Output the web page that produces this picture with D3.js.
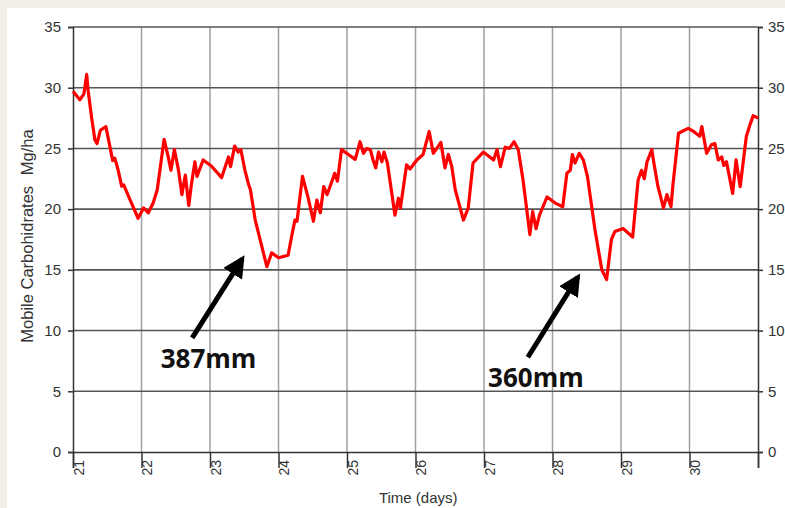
<!DOCTYPE html>
<html>
<head>
<meta charset="utf-8">
<script src="https://cdn.jsdelivr.net/npm/d3@7"></script>
<style>
  body { margin: 0; background: #f1eee6; }
  svg { display: block; }
</style>
</head>
<body>
<div id="chart"></div>
<script>
// time in days, carbohydrate values
const days = [21.00, 21.10, 21.16, 21.20, 21.22, 21.27, 21.32, 21.35, 21.40, 21.48, 21.53, 21.58, 21.61, 21.66, 21.71, 21.74, 21.83, 21.95,
  22.03, 22.10, 22.17, 22.23, 22.33, 22.39, 22.43, 22.48, 22.54, 22.59, 22.64, 22.69, 22.73, 22.78, 22.81, 22.90,
  23.02, 23.17, 23.27, 23.30, 23.36, 23.41, 23.45, 23.51, 23.56, 23.59, 23.66, 23.83, 23.90,
  24.00, 24.14, 24.19, 24.24, 24.27, 24.35, 24.43, 24.51, 24.56, 24.61, 24.66, 24.71, 24.78, 24.82, 24.86, 24.92,
  25.02, 25.12, 25.19, 25.24, 25.29, 25.34, 25.38, 25.42, 25.46, 25.51, 25.54, 25.59, 25.70, 25.75, 25.78, 25.87, 25.92,
  26.02, 26.11, 26.20, 26.26, 26.31, 26.37, 26.43, 26.48, 26.53, 26.58, 26.70, 26.77, 26.84, 26.99,
  27.14, 27.19, 27.24, 27.31, 27.37, 27.44, 27.50, 27.57, 27.67, 27.71, 27.76, 27.81, 27.92,
  28.04, 28.15, 28.21, 28.26, 28.29, 28.33, 28.39, 28.45, 28.51, 28.62, 28.72, 28.79, 28.86, 28.91,
  29.03, 29.17, 29.25, 29.30, 29.34, 29.38, 29.45, 29.48, 29.54, 29.62, 29.67, 29.73, 29.76, 29.84, 29.98,
  30.06, 30.15, 30.18, 30.25, 30.32, 30.37, 30.42, 30.47, 30.50, 30.54, 30.63, 30.68, 30.74, 30.83, 30.88, 30.93, 31.00];
const carbs = [29.7, 29.0, 29.5, 31.1, 29.8, 27.6, 25.7, 25.4, 26.5, 26.8, 25.4, 24.0, 24.2, 23.2, 21.9, 22.0, 20.8, 19.25,
  20.1, 19.7, 20.5, 21.6, 25.75, 24.3, 23.2, 24.9, 23.2, 21.2, 22.8, 20.3, 22.1, 23.9, 22.7, 24.05,
  23.55, 22.6, 24.3, 23.5, 25.2, 24.7, 24.9, 23.2, 22.1, 21.6, 19.1, 15.26, 16.4,
  16.0, 16.2, 17.7, 19.1, 19.0, 22.7, 21.0, 19.0, 20.75, 19.7, 21.85, 21.2, 22.3, 22.95, 22.3, 24.9,
  24.5, 24.1, 25.55, 24.6, 25.0, 24.9, 24.05, 23.4, 24.7, 23.9, 24.7, 23.8, 19.5, 20.9, 20.1, 23.65, 23.3,
  24.05, 24.5, 26.4, 24.6, 25.0, 25.5, 23.4, 24.5, 23.5, 21.6, 19.1, 20.1, 23.8, 24.7,
  24.05, 24.9, 23.5, 25.1, 25.0, 25.55, 24.9, 22.4, 17.9, 19.8, 18.4, 19.5, 21.0,
  20.5, 20.2, 22.95, 23.2, 24.5, 23.8, 24.6, 24.05, 22.7, 18.3, 15.0, 14.2, 17.5, 18.15,
  18.4, 17.7, 22.4, 23.2, 22.5, 23.9, 24.9, 23.8, 21.85, 20.1, 21.2, 20.2, 22.1, 26.25, 26.65,
  26.4, 26.0, 26.8, 24.6, 25.3, 25.4, 24.05, 24.3, 23.6, 23.9, 21.3, 24.05, 21.85, 26.0, 26.9, 27.7, 27.5];

const yTicks = [0, 5, 10, 15, 20, 25, 30, 35];
const xTicks = [21, 22, 23, 24, 25, 26, 27, 28, 29, 30, 31];
const xTickLabels = ["21", "22", "23", "24", "25", "26", "27", "28", "29", "30", ""];

// rainfall annotations: [tail day, tail value, tip day, tip value]
const arrowDays = [[22.74, 9.4, 23.47, 15.9], [27.64, 7.8, 28.37, 14.4]];
const noteLabels = ["387mm", "360mm"];
const noteDays = [22.28, 27.06];
const noteValues = [6.9, 5.35];

const W = 785, H = 508;
const margin = { top: 27, right: 27, bottom: 56, left: 73 };
const width = W - margin.left - margin.right,
  height = H - margin.top - margin.bottom;

const root = d3.select("#chart").append("svg").attr("width", W).attr("height", H);

// white panel over beige page
root.append("rect").attr("x", 7).attr("y", 8).attr("width", W - 7).attr("height", H - 8).attr("fill", "#fff");

const svg = root.append("g").attr("transform", `translate(${margin.left},${margin.top})`);

const x = d3.scaleLinear().domain([21, 31]).range([0, width]);
const y = d3.scaleLinear().domain([0, 35]).range([height, 0]);

// vertical grid
svg.append("g")
  .selectAll("line")
  .data(xTicks.slice(1, -1))
  .join("line")
  .attr("x1", d => x(d)).attr("x2", d => x(d))
  .attr("y1", 0).attr("y2", height)
  .attr("stroke", "#a0a0a0").attr("stroke-width", 1.5);

// horizontal grid
svg.append("g")
  .selectAll("line")
  .data(yTicks.slice(1))
  .join("line")
  .attr("x1", 0).attr("x2", width)
  .attr("y1", d => y(d)).attr("y2", d => y(d))
  .attr("stroke", "#555").attr("stroke-width", 1.6);

// left axis
const yAxisL = svg.append("g")
  .call(d3.axisLeft(y).tickValues(yTicks).tickSize(5).tickPadding(7));
// right axis
const yAxisR = svg.append("g")
  .attr("transform", `translate(${width},0)`)
  .call(d3.axisRight(y).tickValues(yTicks).tickSize(5).tickPadding(5));
[yAxisL, yAxisR].forEach(a => {
  a.select(".domain").attr("stroke", "#333").attr("stroke-width", 1.5);
  a.selectAll(".tick line").attr("stroke", "#333").attr("stroke-width", 1.5);
  a.selectAll(".tick text")
    .style("font-family", "Liberation Sans, Arial, sans-serif")
    .style("font-size", "15px")
    .attr("fill", "#333");
});

// bottom axis
const xAxis = svg.append("g")
  .attr("transform", `translate(0,${height})`)
  .call(d3.axisBottom(x).tickValues(xTicks).tickSize(16).tickFormat((d, i) => xTickLabels[i]));
xAxis.select(".domain").attr("stroke", "#333").attr("stroke-width", 1.5);
xAxis.selectAll(".tick line").attr("stroke", "#333").attr("stroke-width", 1.5);
xAxis.selectAll(".tick text")
  .attr("transform", "translate(10,8) rotate(-90)")
  .attr("x", 0).attr("y", 0).attr("dy", 0)
  .style("text-anchor", "end")
  .style("font-family", "Liberation Sans, Arial, sans-serif")
  .style("font-size", "14px")
  .attr("fill", "#333");

// the series
const line = d3.line()
  .x((d, i) => x(days[i]))
  .y(d => y(d));
svg.append("path")
  .datum(carbs)
  .attr("d", line)
  .attr("fill", "none")
  .attr("stroke", "#ff0000")
  .attr("stroke-width", 3.2)
  .attr("stroke-linejoin", "round");

// axis titles
svg.append("text")
  .attr("transform", `translate(${-40},${y(9)}) rotate(-90)`)
  .style("font-family", "Liberation Sans, Arial, sans-serif")
  .style("font-size", "16.5px")
  .attr("fill", "#333")
  .text("Mobile Carbohidrates");
svg.append("text")
  .attr("transform", `translate(${-40},${y(22.8)}) rotate(-90)`)
  .style("font-family", "Liberation Sans, Arial, sans-serif")
  .style("font-size", "16.5px")
  .attr("fill", "#333")
  .text("Mg/ha");
svg.append("text")
  .attr("x", x(26.04)).attr("y", height + 51)
  .style("text-anchor", "middle")
  .style("font-family", "Liberation Sans, Arial, sans-serif")
  .style("font-size", "15px")
  .attr("fill", "#333")
  .text("Time (days)");

// arrows
svg.append("defs").append("marker")
  .attr("id", "head")
  .attr("viewBox", "0 0 10 10")
  .attr("refX", 8).attr("refY", 5)
  .attr("markerWidth", 4.4).attr("markerHeight", 4.4)
  .attr("orient", "auto")
  .append("path")
  .attr("d", "M0,0 L10,5 L0,10 Z")
  .attr("fill", "#000");

svg.selectAll(".arrow")
  .data(arrowDays)
  .join("line")
  .attr("class", "arrow")
  .attr("x1", d => x(d[0])).attr("y1", d => y(d[1]))
  .attr("x2", d => x(d[2])).attr("y2", d => y(d[3]))
  .attr("stroke", "#000").attr("stroke-width", 5)
  .attr("marker-end", "url(#head)");

svg.selectAll(".note")
  .data(noteLabels)
  .join("text")
  .attr("class", "note")
  .attr("x", (d, i) => x(noteDays[i]))
  .attr("y", (d, i) => y(noteValues[i]))
  .style("font-family", "'Open Sans', Lato, sans-serif")
  .style("font-weight", "bold")
  .style("font-size", "26px")
  .attr("fill", "#111")
  .text(d => d);
</script>
</body>
</html>
